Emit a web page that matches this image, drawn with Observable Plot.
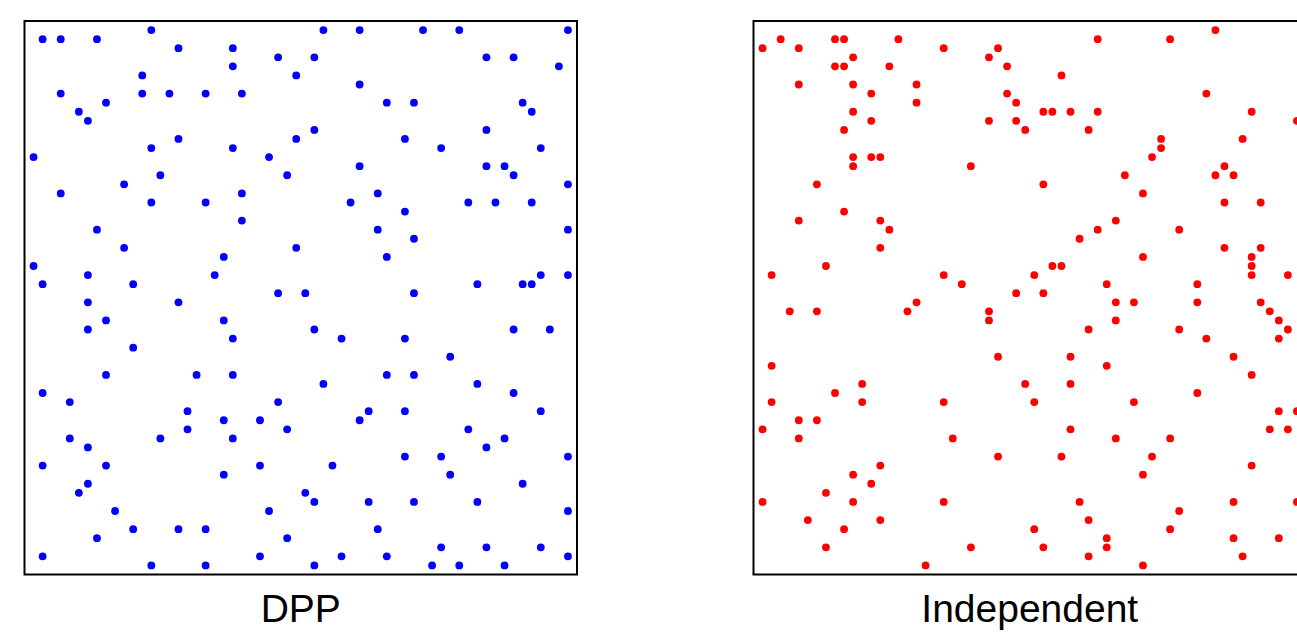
<!DOCTYPE html>
<html>
<head>
<meta charset="utf-8">
<script src="https://cdn.jsdelivr.net/npm/d3@7"></script>
<script src="https://cdn.jsdelivr.net/npm/@observablehq/plot@0.6"></script>
<style>
  html, body { margin: 0; padding: 0; background: #fff; overflow: hidden; }
  #chart svg { max-width: none !important; display: block; }
</style>
</head>
<body>
<div id="chart"></div>
<script>
// Panel names (shown as labels under each box)
const panels = ["DPP", "Independent"];
const panelColors = ["#0000ff", "#ff0000"];

// Grid positions [column, row] (row 1 = top, column 1 = left), grid of 60 x 60
const dppPoints = [
  [14,1],[2,2],[4,2],[8,2],[17,3],[23,3],[28,4],[23,5],[13,6],[30,6],[4,8],[13,8],[16,8],[20,8],[24,8],
  [9,9],[6,10],[7,11],[17,13],[30,13],[1,15],[14,14],[23,14],[27,15],[15,17],[29,17],[11,18],[4,19],
  [24,19],[14,20],[20,20],[24,22],[8,23],[11,25],[30,25],[22,26],[1,27],[7,28],[21,28],[2,29],[12,29],
  [28,30],[31,30],
  [33,1],[37,1],[44,1],[48,1],[60,1],[32,4],[51,4],[54,4],[59,5],[37,7],[40,9],[43,9],[55,9],[56,10],
  [32,12],[51,12],[42,13],[46,14],[57,14],[37,16],[51,16],[53,16],[54,17],[60,18],[39,19],[36,20],
  [49,20],[52,20],[56,20],[42,21],[39,23],[60,23],[43,24],[40,26],[57,28],[60,28],[50,29],[55,29],
  [56,29],[43,30],
  [7,31],[17,31],[9,33],[22,33],[7,34],[23,35],[12,36],[9,39],[19,39],[23,39],[2,41],[5,42],[28,42],
  [18,43],[22,44],[26,44],[18,45],[29,45],[5,46],[15,46],[23,46],[7,47],[2,49],[9,49],[26,49],[22,50],
  [7,51],[6,52],[31,52],[10,54],[27,54],[12,56],[17,56],[20,56],[8,57],[29,57],[2,59],[26,59],[14,60],
  [20,60],
  [32,34],[54,34],[58,34],[35,35],[42,35],[47,37],[40,39],[43,39],[33,40],[50,40],[54,41],[38,43],
  [42,43],[57,43],[37,44],[49,45],[53,46],[51,47],[42,48],[46,48],[60,48],[34,49],[47,50],[55,51],
  [32,53],[38,53],[43,53],[50,53],[60,54],[39,56],[46,58],[51,58],[57,58],[35,59],[40,59],[60,59],
  [32,60],[45,60],[48,60],[53,60]
];

const independentPoints = [
  [3,2],[9,2],[10,2],[16,2],[1,3],[5,3],[21,3],[27,3],[11,4],[26,4],[9,5],[10,5],[15,5],[28,5],[5,7],
  [11,7],[18,7],[13,8],[28,8],[18,9],[29,9],[11,10],[13,11],[26,11],[29,11],[10,12],[30,12],[11,15],
  [13,15],[14,15],[11,16],[24,16],[7,18],[10,21],[5,22],[14,22],[15,23],[14,25],[8,27],[2,28],[21,28],
  [31,28],[23,29],[29,30],
  [51,1],[38,2],[46,2],[34,6],[50,8],[32,10],[33,10],[35,10],[38,10],[55,10],[37,12],[60,11],[45,13],
  [54,13],[45,14],[44,15],[52,16],[41,17],[51,17],[53,17],[32,18],[43,19],[52,20],[56,20],[40,22],
  [38,23],[47,23],[36,24],[52,25],[56,25],[43,26],[55,26],[33,27],[34,27],[55,27],[55,28],[59,28],
  [39,29],[49,29],[32,30],
  [18,31],[4,32],[7,32],[17,32],[26,32],[26,33],[27,37],[2,38],[12,40],[9,41],[2,42],[12,42],[21,42],
  [30,40],[5,44],[7,44],[1,45],[5,46],[22,46],[27,48],[14,49],[11,50],[13,51],[8,52],[1,53],[11,53],
  [21,53],[6,55],[14,55],[10,56],[8,58],[24,58],[19,60],
  [40,31],[42,31],[49,31],[56,31],[57,32],[40,33],[58,33],[37,34],[47,34],[59,34],[50,35],[58,35],
  [35,37],[53,37],[39,38],[55,39],[35,40],[31,42],[42,42],[49,41],[58,43],[60,43],[35,45],[57,45],
  [59,45],[40,46],[46,46],[34,48],[44,48],[55,49],[43,50],[36,53],[53,53],[60,53],[47,54],[37,55],
  [31,56],[46,56],[39,57],[53,57],[58,57],[32,58],[39,58],[37,59],[54,59],[43,60]
];

const gridDomain = [0, 61];

const data = [
  ...dppPoints.map(([x, y]) => ({panel: panels[0], x, y})),
  ...independentPoints.map(([x, y]) => ({panel: panels[1], x, y}))
];

const chart = Plot.plot({
  width: 1320,
  height: 637,
  marginLeft: 24,
  marginRight: 14.5,
  marginTop: 20.5,
  marginBottom: 63,
  style: {background: "#fff"},
  fx: {domain: panels, paddingInner: 0.2421, paddingOuter: 0, round: false, axis: null},
  x: {domain: gridDomain, axis: null},
  y: {domain: gridDomain, reverse: true, axis: null},
  color: {domain: panels, range: panelColors},
  marks: [
    Plot.dot(data, {fx: "panel", x: "x", y: "y", r: 3.9, fill: "panel", stroke: null}),
    Plot.frame({stroke: "black", strokeWidth: 2}),
    Plot.text(panels, {
      fx: d => d, text: d => d, frameAnchor: "bottom", lineAnchor: "bottom", dy: 47,
      fontSize: 39, fontFamily: "'Liberation Sans', Arial, sans-serif", fill: "black"
    })
  ]
});
document.getElementById("chart").append(chart);
</script>
</body>
</html>
